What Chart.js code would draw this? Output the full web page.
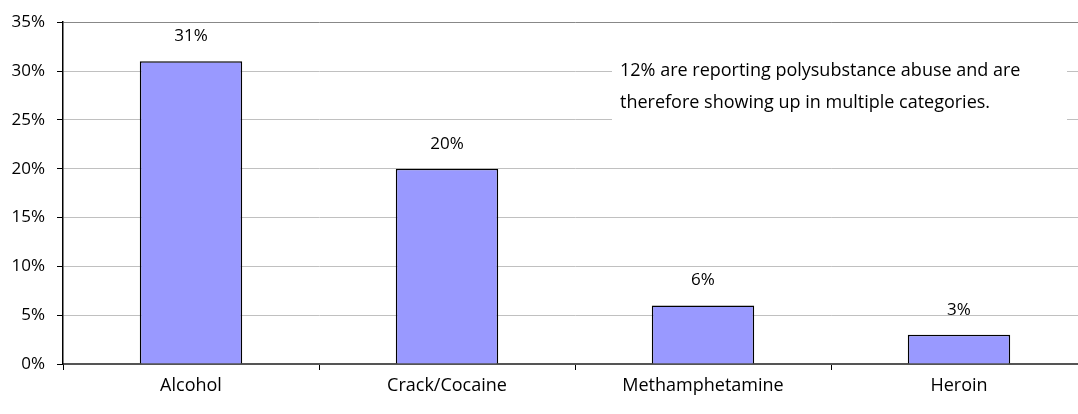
<!DOCTYPE html>
<html>
<head>
<meta charset="utf-8">
<script src="https://cdn.jsdelivr.net/npm/chart.js@4"></script>
<style>
  html, body { margin: 0; padding: 0; background: #fff; overflow: hidden; }
</style>
</head>
<body>
<canvas id="chart" width="1100" height="414"></canvas>
<script>
const categories = ['Alcohol', 'Crack/Cocaine', 'Methamphetamine', 'Heroin'];
const percents = [31, 20, 6, 3];
const yTicks = [0, 5, 10, 15, 20, 25, 30, 35];
const noteLines = [
  '12% are reporting polysubstance abuse and are',
  'therefore showing up in multiple categories.'
];

const FONT = '"Open Sans", Lato, sans-serif';

// value labels above the bars + the note box in the upper right
const extras = {
  id: 'extras',
  afterDatasetsDraw(chart) {
    const ctx = chart.ctx;
    const meta = chart.getDatasetMeta(0);
    ctx.save();
    ctx.font = '17px ' + FONT;
    ctx.fillStyle = '#000';
    ctx.textAlign = 'center';
    ctx.textBaseline = 'middle';
    meta.data.forEach((bar, i) => {
      ctx.fillText(percents[i] + '%', bar.x, bar.y - 25);
    });

    const area = chart.chartArea;
    const left = area.left + 549;
    ctx.fillStyle = '#fff';
    ctx.fillRect(left, area.top + 32, 455, 78);
    ctx.fillStyle = '#000';
    ctx.textAlign = 'left';
    ctx.font = '18px ' + FONT;
    noteLines.forEach((line, i) => {
      ctx.fillText(line, left + 8, area.top + 49 + i * 32);
    });
    ctx.restore();
  }
};

new Chart(document.getElementById('chart'), {
  type: 'bar',
  data: {
    labels: categories,
    datasets: [{
      data: percents,
      backgroundColor: '#9999ff',
      borderColor: '#000',
      borderWidth: 1.5,
      barPercentage: 0.4,
      categoryPercentage: 1
    }]
  },
  options: {
    responsive: false,
    animation: false,
    layout: { padding: { top: 20, right: 13, left: 0, bottom: 0 } },
    plugins: {
      legend: { display: false },
      tooltip: { enabled: false }
    },
    scales: {
      x: {
        grid: {
          drawOnChartArea: false,
          tickLength: 6,
          tickColor: '#000',
          offset: true
        },
        border: { color: '#555', width: 2 },
        ticks: {
          color: '#000',
          padding: 5,
          font: { size: 18, family: FONT }
        },
        afterFit(scale) { scale.height = 50; }
      },
      y: {
        min: 0,
        max: 35,
        afterBuildTicks(scale) {
          scale.ticks = yTicks.map(v => ({ value: v }));
        },
        grid: {
          color: c => (c.tick && c.tick.value === 35 ? '#888' : '#c0c0c0'),
          tickLength: 6,
          tickColor: '#000'
        },
        border: { color: '#000', width: 1.5 },
        ticks: {
          color: '#000',
          padding: 12,
          font: { size: 17, family: FONT },
          callback: v => v + '%'
        },
        afterFit(scale) { scale.width = 63; }
      }
    }
  },
  plugins: [extras]
});
</script>
</body>
</html>
